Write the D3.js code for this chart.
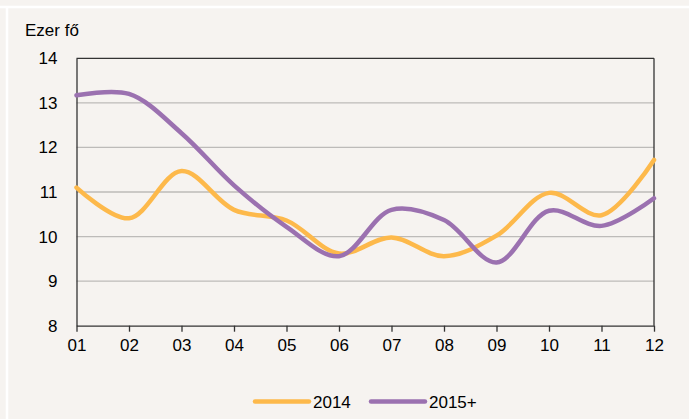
<!DOCTYPE html>
<html>
<head>
<meta charset="utf-8">
<script src="https://cdn.jsdelivr.net/npm/d3@7"></script>
<style>
  body { margin: 0; background: #f6f3f0; }
  svg { display: block; font-family: "Liberation Sans Narrow", "Arial Narrow", "Liberation Sans", sans-serif; }
  .axis text { font-size: 17px; fill: #000; }
  .axis path, .axis line { stroke: #333; stroke-width: 1.3; }
</style>
</head>
<body>
<script>
var months = ["01", "02", "03", "04", "05", "06", "07", "08", "09", "10", "11", "12"];
var yTicks = [8, 9, 10, 11, 12, 13, 14];
var s2014 = [11.1, 10.41, 11.47, 10.6, 10.36, 9.62, 9.98, 9.56, 10.02, 10.98, 10.48, 11.72];
var s2015 = [13.17, 13.2, 12.32, 11.15, 10.22, 9.56, 10.6, 10.37, 9.42, 10.58, 10.24, 10.86];
var seriesNames = ["2014", "2015+"];
var colors = ["#fdb94b", "#9b71b0"];

var w = 689, h = 419;
var plotLeft = 76.5, plotRight = 654, plotTop = 58.3, plotBottom = 325.7;

var svg = d3.select("body").append("svg").attr("width", w).attr("height", h);

svg.append("rect").attr("width", w).attr("height", h).attr("fill", "#f6f3f0");
// white frame lines
svg.append("line").attr("x1", 0).attr("x2", w).attr("y1", 7).attr("y2", 7)
   .attr("stroke", "#fff").attr("stroke-width", 2.5);
svg.append("line").attr("x1", 7).attr("x2", 7).attr("y1", 7).attr("y2", h)
   .attr("stroke", "#fff").attr("stroke-width", 2.5);

var xScale = d3.scalePoint().domain(months).range([plotLeft, plotRight]);
var yScale = d3.scaleLinear().domain([8, 14]).range([plotBottom, plotTop]);

// gridlines
svg.append("g").selectAll("line")
   .data(yTicks.slice(1, -1))
   .enter().append("line")
   .attr("x1", plotLeft).attr("x2", plotRight)
   .attr("y1", function(d) { return yScale(d); })
   .attr("y2", function(d) { return yScale(d); })
   .attr("stroke", "#bdbbb9").attr("stroke-width", 1.3);

// frame of plot area
svg.append("line").attr("x1", plotLeft).attr("x2", plotRight).attr("y1", plotTop).attr("y2", plotTop)
   .attr("stroke", "#333").attr("stroke-width", 1.3);
svg.append("line").attr("x1", plotRight).attr("x2", plotRight).attr("y1", plotTop).attr("y2", plotBottom)
   .attr("stroke", "#333").attr("stroke-width", 1.3);

//Create X axis
var xAxis = d3.axisBottom(xScale).tickSize(6).tickPadding(7).tickSizeOuter(0);
svg.append("g")
   .attr("class", "axis")
   .attr("transform", "translate(0," + plotBottom + ")")
   .call(xAxis);

//Create Y axis
var yAxis = d3.axisLeft(yScale).tickValues(yTicks).tickFormat(d3.format("d"))
   .tickSize(0).tickPadding(19).tickSizeOuter(0);
svg.append("g")
   .attr("class", "axis")
   .attr("transform", "translate(" + plotLeft + ",0)")
   .call(yAxis);

svg.append("text")
   .attr("x", 25).attr("y", 36)
   .style("font-size", "17px")
   .text("Ezer fő");

var line = d3.line()
   .x(function(d, i) { return xScale(months[i]); })
   .y(function(d) { return yScale(d); })
   .curve(d3.curveCatmullRom.alpha(0.5));

[s2014, s2015].forEach(function(s, k) {
  svg.append("path")
     .datum(s)
     .attr("fill", "none")
     .attr("stroke", colors[k])
     .attr("stroke-width", 4.5)
     .attr("stroke-linecap", "round")
     .attr("d", line);
});

// legend
var legendX = [255, 371];
seriesNames.forEach(function(name, k) {
  svg.append("line")
     .attr("x1", legendX[k]).attr("x2", legendX[k] + 54)
     .attr("y1", 401.5).attr("y2", 401.5)
     .attr("stroke", colors[k]).attr("stroke-width", 4.5)
     .attr("stroke-linecap", "round");
  svg.append("text")
     .attr("x", legendX[k] + 58).attr("y", 408)
     .style("font-size", "17px")
     .text(name);
});
</script>
</body>
</html>
